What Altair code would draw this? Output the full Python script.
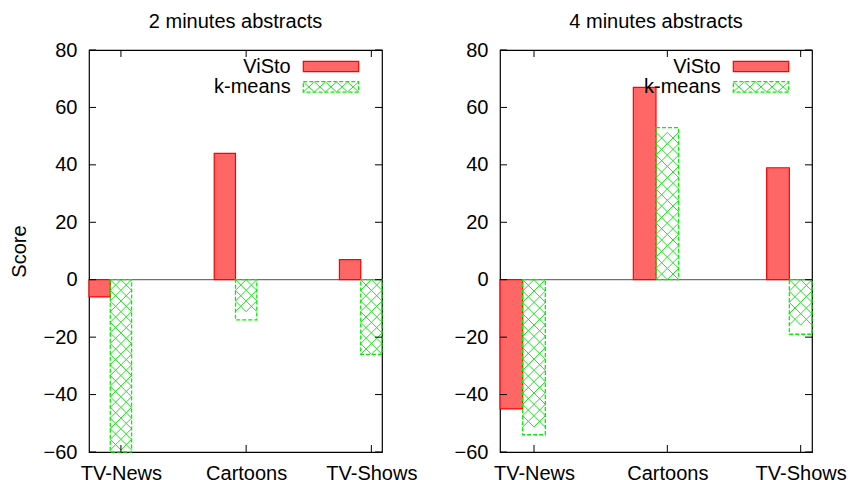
import altair as alt
import pandas as pd

# ---- data -------------------------------------------------------------
categories = ["TV-News", "Cartoons", "TV-Shows"]
series = ["ViSto", "k-means"]
visto_2min = [-6, 44, 7]
kmeans_2min = [-60, -14, -26]
visto_4min = [-45, 67, 39]
kmeans_4min = [-54, 53, -19]
y_ticks = [-60, -40, -20, 0, 20, 40, 60, 80]
panel_titles = ["2 minutes abstracts", "4 minutes abstracts"]

# ---- style ------------------------------------------------------------
FONT = "Liberation Sans"
FS = 20
RED_FILL = "#ff6666"
RED = "#ff0000"
GREEN = "#00f000"
HATCH = "#22e022"
BAR_W = 0.17                      # bar width in category units
X_DOMAIN = [-1.5 * BAR_W, 2 + 0.5 * BAR_W]
Y_DOMAIN = [-60, 80]
H = 402
TICK = 7
X_SHAPE = "M-1,-1L1,1M-1,1L1,-1"
label_expr = "[" + ",".join(f"'{c}'" for c in categories) + "][datum.value]"


def swatch_path(n=5, half_h=0.18):
    """A row of diagonal crosses spanning the unit width, used as a legend key."""
    step = 2.0 / n
    r = step / 2
    parts = []
    for k in range(n):
        c = -1 + step * (k + 0.5)
        parts.append(f"M{c - r:.3f},{-half_h}L{c + r:.3f},{half_h}"
                     f"M{c - r:.3f},{half_h}L{c + r:.3f},{-half_h}")
    return "".join(parts)


def panel(title, visto, kmeans, width, show_ytitle):
    rows = []
    for i, cat in enumerate(categories):
        rows.append({"cat": cat, "idx": i, "series": series[0], "score": visto[i]})
        rows.append({"cat": cat, "idx": i, "series": series[1], "score": kmeans[i]})
    df = pd.DataFrame(rows)

    xs = alt.Scale(domain=X_DOMAIN, nice=False, zero=False)
    ys = alt.Scale(domain=Y_DOMAIN, nice=False, zero=False)

    # hatch spacing: half a bar wide, same spacing in pixels vertically
    d_px = BAR_W / 2 * width / (X_DOMAIN[1] - X_DOMAIN[0])
    d_y = d_px / (H / (Y_DOMAIN[1] - Y_DOMAIN[0]))

    base = alt.Chart(df).transform_calculate(
        slot=f"datum.series == '{series[0]}' ? -1 : 0",
    ).transform_calculate(
        x0=f"datum.idx + (datum.slot - 0.5) * {BAR_W}",
        x1=f"datum.idx + (datum.slot + 0.5) * {BAR_W}",
        zero="0",
    )

    xaxis = alt.Axis(values=[0, 1, 2], labelExpr=label_expr, title=None,
                     tickSize=0, domain=False, grid=False, labelFlush=False,
                     labelPadding=11, labelFontSize=FS, labelFont=FONT,
                     labelColor="black", labelOverlap=False)
    yaxis = alt.Axis(values=y_ticks, title="Score" if show_ytitle else None,
                     tickSize=0, domain=False, grid=False, labelPadding=12,
                     labelFontSize=FS, labelFont=FONT, labelColor="black",
                     titleFontSize=FS, titleFont=FONT, titleFontWeight="normal",
                     titleColor="black", titlePadding=14)

    zero_line = alt.Chart(pd.DataFrame({"v": [0]})).mark_rule(
        color="#707070", strokeWidth=1.2
    ).encode(y=alt.Y("v:Q", scale=ys, axis=yaxis),
             x=alt.value(0), x2=alt.value(width))

    visto_bars = base.transform_filter(f"datum.series == '{series[0]}'").mark_rect(
        fill=RED_FILL, stroke=RED, strokeWidth=1.2
    ).encode(
        x=alt.X("x0:Q", scale=xs, axis=xaxis), x2="x1:Q",
        y=alt.Y("score:Q", scale=ys), y2="zero:Q",
    )

    kmeans_bars = base.transform_filter(f"datum.series == '{series[1]}'").mark_rect(
        fill="white", fillOpacity=0, stroke=GREEN, strokeWidth=1.3, strokeDash=[4, 2]
    ).encode(
        x=alt.X("x0:Q", scale=xs), x2="x1:Q",
        y=alt.Y("score:Q", scale=ys), y2="zero:Q",
    )

    hatch = base.transform_filter(f"datum.series == '{series[1]}'").transform_calculate(
        row=f"sequence(0, floor(abs(datum.score) / {d_y:.4f}))",
        col="sequence(0, 2)",
    ).transform_flatten(["row"]).transform_flatten(["col"]).transform_calculate(
        hx=f"datum.x0 + (datum.col + 0.5) * {BAR_W / 2}",
        hy=f"(datum.score < 0 ? -1 : 1) * (datum.row + 0.5) * {d_y:.4f}",
    ).mark_point(
        shape=X_SHAPE, size=d_px * d_px, filled=False, color=HATCH,
        strokeWidth=1, opacity=1,
    ).encode(x=alt.X("hx:Q", scale=xs), y=alt.Y("hy:Q", scale=ys))

    # inward ticks on all four sides
    yt = pd.DataFrame({"v": y_ticks})
    xt = pd.DataFrame({"i": [0, 1, 2]})
    ticks = [
        alt.Chart(yt).mark_rule(color="black").encode(
            y=alt.Y("v:Q", scale=ys), x=alt.value(0), x2=alt.value(TICK)),
        alt.Chart(yt).mark_rule(color="black").encode(
            y=alt.Y("v:Q", scale=ys), x=alt.value(width - TICK), x2=alt.value(width)),
        alt.Chart(xt).mark_rule(color="black").encode(
            x=alt.X("i:Q", scale=xs), y=alt.value(H - TICK), y2=alt.value(H)),
        alt.Chart(xt).mark_rule(color="black").encode(
            x=alt.X("i:Q", scale=xs), y=alt.value(0), y2=alt.value(TICK)),
    ]

    # key in the top right corner: label, then swatch
    sw_x1 = width - 23.3
    sw_x0 = sw_x1 - 55.4
    key = []
    for k, name in enumerate(series):
        top = 11.3 + 20.4 * k
        kd = pd.DataFrame({"series": [name]})
        key.append(alt.Chart(kd).mark_text(
            align="right", baseline="middle", font=FONT, fontSize=FS, color="black"
        ).encode(text="series:N", x=alt.value(sw_x0 - 12.6), y=alt.value(top + 5.2)))
        if k == 0:
            key.append(alt.Chart(kd).mark_rect(
                fill=RED_FILL, stroke=RED, strokeWidth=1.2
            ).encode(x=alt.value(sw_x0), x2=alt.value(sw_x1),
                     y=alt.value(top), y2=alt.value(top + 10.4)))
        else:
            key.append(alt.Chart(kd).mark_rect(
                fill="white", fillOpacity=0, stroke=GREEN, strokeWidth=1.3,
                strokeDash=[4, 2]
            ).encode(x=alt.value(sw_x0), x2=alt.value(sw_x1),
                     y=alt.value(top), y2=alt.value(top + 10.4)))
            key.append(alt.Chart(kd).mark_point(
                shape=swatch_path(), size=(sw_x1 - sw_x0) ** 2, filled=False,
                color=HATCH, strokeWidth=1, opacity=1,
            ).encode(x=alt.value((sw_x0 + sw_x1) / 2), y=alt.value(top + 5.2)))

    return alt.layer(zero_line, visto_bars, hatch, kmeans_bars, *ticks, *key).properties(
        width=width, height=H,
        title=alt.TitleParams(title, fontSize=FS, font=FONT, fontWeight="normal",
                              color="black", anchor="middle", frame="group",
                              baseline="alphabetic", offset=-8),
    )


left = panel(panel_titles[0], visto_2min, kmeans_2min, 293, True)
right = panel(panel_titles[1], visto_4min, kmeans_4min, 312, False)

chart = alt.hconcat(left, right, spacing=118, bounds="flush").properties(
    padding={"left": 8, "top": 11, "right": 0, "bottom": 0},
    background="white",
).configure_view(stroke="black", strokeWidth=1.2)

chart.save("out.html", embed_options={"renderer": "svg", "actions": False})
